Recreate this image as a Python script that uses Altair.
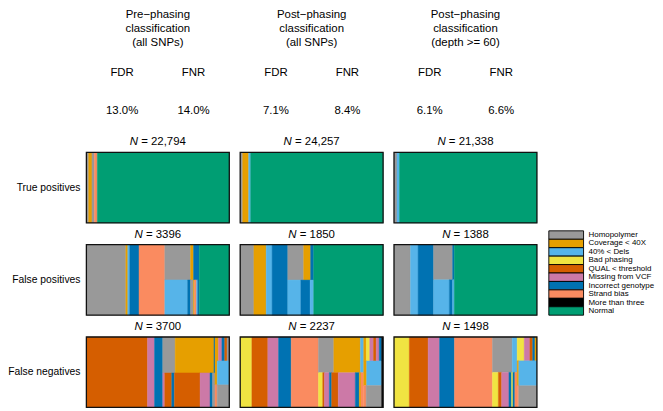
import altair as alt
import pandas as pd

FONT = "Liberation Sans"

# ---------------- categories / colours ----------------
CODES = ["H", "C", "D", "B", "Q", "M", "I", "S", "T", "N"]
NAMES = ["Homopolymer", "Coverage < 40X", "40% < Dels", "Bad phasing",
         "QUAL < threshold", "Missing from VCF", "Incorrect genotype",
         "Strand bias", "More than three", "Normal"]
COLORS = ["#999999", "#E69F00", "#56B4E9", "#F0E442", "#D55E00",
          "#CC79A7", "#0072B2", "#FA8B60", "#000000", "#009E73"]

# ---------------- header texts ----------------
COL_TITLES = [["Pre\u2212phasing", "classification", "(all SNPs)"],
              ["Post\u2212phasing", "classification", "(all SNPs)"],
              ["Post\u2212phasing", "classification", "(depth >= 60)"]]
FDR = ["13.0%", "7.1%", "6.1%"]
FNR = ["14.0%", "8.4%", "6.6%"]
ROW_LABELS = ["True positives", "False positives", "False negatives"]
N_TP = [22794, 24257, 21338]
N_FP = [3396, 1850, 1388]
N_FN = [3700, 2237, 1498]

# ---------------- treemap tiles (columns -> rows -> tiles of counts) ----------------
TP_PRE = [[[("H", 364)]], [[("C", 522)]], [[("H", 380)]], [[("S", 475)]], [[("N", 21053)]]]
TP_POST = [[[("H", 421)]], [[("C", 1011)]], [[("D", 337)]], [[("N", 22488)]]]
TP_D60 = [[[("H", 444)]], [[("D", 370)]], [[("N", 20524)]]]

FP_PRE = [[[("H", 936)]], [[("C", 47)]], [[("D", 47)]], [[("I", 219)]], [[("S", 613)]],
          [[("H", 306), ("C", 35), ("I", 68)],
           [("D", 271), ("I", 35), ("H", 35), ("C", 12), ("S", 24), ("D", 14), ("I", 18)]],
          [[("N", 714)]]]
FP_POST = [[[("H", 177)]], [[("C", 159)]], [[("D", 77)]], [[("I", 203)]],
           [[("H", 103), ("C", 45), ("I", 20)], [("D", 84), ("I", 60), ("D", 23)]],
           [[("N", 899)]]]
FP_D60 = [[[("H", 160)]], [[("D", 74)]], [[("I", 150)]],
          [[("H", 92), ("I", 8)], [("D", 77), ("I", 16), ("D", 8)]],
          [[("N", 803)]]]

FN_PRE = [[[("Q", 1575)]], [[("M", 180)]], [[("I", 213)]],
          [[("H", 163), ("C", 510), ("I", 14)],
           [("M", 25), ("Q", 88), ("I", 34), ("Q", 324), ("M", 126), ("I", 32), ("H", 31)]],
          [[("C", 30), ("M", 30), ("I", 25), ("Q", 20), ("H", 20)],
           [("C", 20), ("D", 105)],
           [("S", 18), ("H", 100)]]]
FN_POST = [[[("B", 182)]], [[("Q", 249)]], [[("M", 167)]], [[("I", 198)]], [[("S", 425)]],
           [[("H", 121), ("C", 210), ("D", 26)],
            [("B", 33), ("Q", 13), ("M", 38), ("I", 18), ("Q", 51), ("M", 131), ("I", 31), ("C", 13), ("S", 21)]],
           [[("C", 14), ("B", 18), ("M", 20), ("Q", 14), ("M", 16), ("I", 13)],
            [("C", 16), ("D", 82)],
            [("S", 12), ("H", 75)]],
           [[("T", 23)]]]
FN_D60 = [[[("B", 160)]], [[("Q", 197)]], [[("M", 120)]], [[("I", 156)]], [[("S", 398)]],
          [[("H", 104), ("D", 26)],
           [("B", 31), ("Q", 17), ("M", 38), ("I", 14), ("B", 7), ("I", 10), ("S", 12)]],
          [[("B", 25), ("M", 20), ("Q", 10), ("I", 8), ("C", 7)],
           [("C", 6), ("D", 67)],
           [("S", 5), ("H", 59)]]]

PANELS = [[TP_PRE, TP_POST, TP_D60], [FP_PRE, FP_POST, FP_D60], [FN_PRE, FN_POST, FN_D60]]
NS = [N_TP, N_FP, N_FN]

# ---------------- layout helpers ----------------
PW, PH = 144, 71
HEAD_H = 122
LAB_W = 68
LEG_W = 103
NFS = 11.5

CHAR_W = {"0": 556, "1": 556, "2": 556, "3": 556, "4": 556, "5": 556, "6": 556,
          "7": 556, "8": 556, "9": 556, ",": 278, "=": 584, " ": 278, "N": 722}


def text_w(s, fs):
    return sum(CHAR_W.get(c, 556) for c in s) / 1000.0 * fs


def slice_dice(columns):
    total = sum(n for col in columns for row in col for _, n in row)
    recs = []
    x = 0.0
    for col in columns:
        csum = sum(n for row in col for _, n in row)
        w = csum / total
        y = 0.0
        for row in col:
            rsum = sum(n for _, n in row)
            h = rsum / csum
            xx = x
            for cat, n in row:
                tw = w * n / rsum
                recs.append({"cat": cat, "x0": xx, "x1": xx + tw, "y0": y, "y1": y + h})
                xx += tw
            y += h
        x += w
    return pd.DataFrame(recs)


xs = alt.Scale(domain=[0, 1], nice=False, zero=False)
ys = alt.Scale(domain=[0, 1], nice=False, zero=False, reverse=True)
cs = alt.Scale(domain=CODES, range=COLORS)


def panel(columns, n):
    tiles = slice_dice(columns)
    rects = alt.Chart(tiles).mark_rect(strokeWidth=0.4).encode(
        x=alt.X("x0:Q", scale=xs, axis=None), x2="x1:Q",
        y=alt.Y("y0:Q", scale=ys, axis=None), y2="y1:Q",
        color=alt.Color("cat:N", scale=cs, legend=None),
        stroke=alt.Stroke("cat:N", scale=cs, legend=None),
    )
    border = alt.Chart(pd.DataFrame({"x0": [0.0], "x1": [1.0], "y0": [0.0], "y1": [1.0]})).mark_rect(
        fillOpacity=0, stroke="#111111", strokeWidth=1.3).encode(
        x=alt.X("x0:Q", scale=xs, axis=None), x2="x1:Q",
        y=alt.Y("y0:Q", scale=ys, axis=None), y2="y1:Q")
    num = f"{n:,}" if n >= 10000 else str(n)
    rest = "= " + num
    wn = text_w("N", NFS)
    total = wn + text_w(" ", NFS) + text_w(rest, NFS)
    start = PW / 2 - total / 2
    lab = pd.DataFrame({"t": ["N", rest],
                        "x": [start / PW, (start + wn + text_w(" ", NFS)) / PW]})
    t1 = alt.Chart(lab.iloc[[0]]).mark_text(align="left", baseline="middle", fontSize=NFS,
                                             font=FONT, fontStyle="italic", color="black").encode(
        x=alt.X("x:Q", scale=xs, axis=None), y=alt.value(-10), text="t:N")
    t2 = alt.Chart(lab.iloc[[1]]).mark_text(align="left", baseline="middle", fontSize=NFS,
                                             font=FONT, color="black").encode(
        x=alt.X("x:Q", scale=xs, axis=None), y=alt.value(-10), text="t:N")
    return alt.layer(rects, border, t1, t2).properties(width=PW, height=PH)


def header(j):
    rows = []
    for line, yy in zip(COL_TITLES[j], [6, 20, 34]):
        rows.append({"t": line, "xf": 0.5, "yp": yy})
    rows += [{"t": "FDR", "xf": 0.25, "yp": 64}, {"t": "FNR", "xf": 0.75, "yp": 64},
             {"t": FDR[j], "xf": 0.25, "yp": 102}, {"t": FNR[j], "xf": 0.75, "yp": 102}]
    return alt.Chart(pd.DataFrame(rows)).mark_text(
        align="center", baseline="middle", fontSize=11.5, font=FONT, color="black").encode(
        x=alt.X("xf:Q", scale=alt.Scale(domain=[0, 1]), axis=None),
        y=alt.Y("yp:Q", scale=alt.Scale(domain=[0, HEAD_H], range=[0, HEAD_H]), axis=None),
        text="t:N").properties(width=PW, height=HEAD_H)


def row_label(txt):
    return alt.Chart(pd.DataFrame({"t": [txt]})).mark_text(
        align="right", baseline="middle", fontSize=10.4, font=FONT, color="black").encode(
        x=alt.value(73), y=alt.value(PH / 2), text="t:N").properties(width=LAB_W, height=PH)


def empty(w):
    return alt.Chart(pd.DataFrame({"t": [""]})).mark_text(fontSize=4).encode(
        x=alt.value(1), y=alt.value(12), text="t:N").properties(width=w, height=1)


def legend():
    df = pd.DataFrame({"cat": CODES, "name": NAMES})
    yb = alt.Y("cat:N", sort=CODES,
               scale=alt.Scale(domain=CODES, range=[-14, 71], paddingInner=0, paddingOuter=0),
               axis=None)
    boxes = alt.Chart(df).mark_rect(stroke="black", strokeWidth=0.9).encode(
        x=alt.value(1), x2=alt.value(36), y=yb,
        color=alt.Color("cat:N", scale=cs, legend=None))
    labels = alt.Chart(df).mark_text(align="left", baseline="middle", fontSize=8.0,
                                     font=FONT, color="black").encode(
        x=alt.value(41), y=yb, text="name:N")
    return alt.layer(boxes, labels).properties(width=LEG_W, height=PH)


cells = [empty(LAB_W), header(0), header(1), header(2), empty(1)]
for i in range(3):
    cells.append(row_label(ROW_LABELS[i]))
    for j in range(3):
        cells.append(panel(PANELS[i][j], NS[i][j]))
    cells.append(legend() if i == 1 else empty(1))

chart = alt.concat(*cells, columns=5, align="each", bounds="flush",
                   spacing={"row": 22, "column": 11}).properties(
    padding=0
).configure_view(strokeWidth=0)

chart.save("out.html", embed_options={"renderer": "svg", "actions": False})
